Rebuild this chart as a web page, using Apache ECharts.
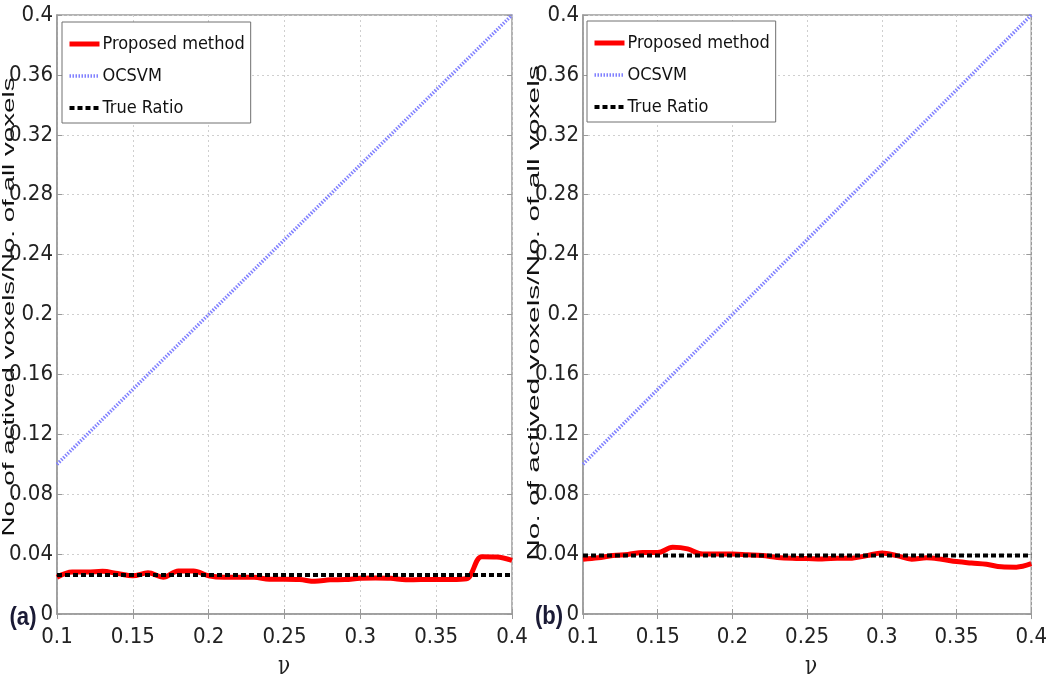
<!DOCTYPE html>
<html><head><meta charset="utf-8">
<script src="https://cdn.jsdelivr.net/npm/echarts@6/dist/echarts.min.js"></script>
<style>html,body{margin:0;padding:0;background:#fff}#c{width:1050px;height:678px}</style>
</head><body><div id="c"></div>
<script>
// ---- data ----
const seriesNames = ['Proposed method', 'OCSVM', 'True Ratio'];
const panelLabels = ['(a)', '(b)'];
const yTitle = 'No. of actived voxels/No. of all voxels';
const xTitle = 'ν';
const nu = [0.10,0.11,0.12,0.13,0.14,0.15,0.16,0.17,0.18,0.19,0.20,0.21,0.22,0.23,0.24,0.25,0.26,0.27,0.28,0.29,0.30,0.31,0.32,0.33,0.34,0.35,0.36,0.37,0.38,0.39,0.40];
const proposedA = [0.0245,0.0280,0.0280,0.0285,0.0270,0.0255,0.0275,0.0245,0.0287,0.0287,0.0255,0.0245,0.0245,0.0245,0.0232,0.0232,0.0230,0.0218,0.0228,0.0230,0.0238,0.0240,0.0238,0.0228,0.0230,0.0230,0.0230,0.0235,0.0382,0.0380,0.0358];
const proposedB = [0.0365,0.0375,0.0390,0.0398,0.0410,0.0410,0.0445,0.0435,0.0400,0.0400,0.0400,0.0395,0.0390,0.0378,0.0372,0.0370,0.0368,0.0372,0.0373,0.0390,0.0407,0.0390,0.0366,0.0375,0.0365,0.0350,0.0340,0.0332,0.0315,0.0313,0.0336];
const ocsvmNu = [0.10, 0.40];
const ocsvmA = [0.10, 0.40];
const ocsvmB = [0.10, 0.40];
const trueNu = [0.10, 0.40];
const trueA = [0.026, 0.026];
const trueB = [0.039, 0.039];
const xMin = 0.1, xMax = 0.4, xStep = 0.05;
const yMin = 0, yMax = 0.4, yStep = 0.04;

// ---- build ----
const zip = (xs, ys) => xs.map((x, i) => [x, ys[i]]);
const NARROW = "'Liberation Sans Narrow','DejaVu Sans Condensed','Liberation Sans',Arial,sans-serif";
const fmt = v => String(parseFloat(v.toFixed(2)));
const COLORS = ['#ff0000', '#8080ff', '#000000'];
const WIDTHS = [5, 3.5, 4];
const TYPES = ['solid', [1.5, 1.5], [5, 3]];

const grids = [
  {left: 57, right: 538, top: 15, bottom: 64},
  {left: 583, right: 11, top: 15, bottom: 64}
].map(g => Object.assign(g, {show: true, borderColor: '#9a9a9a', borderWidth: 1.5, backgroundColor: '#fff'}));

const xAxes = [], yAxes = [];
[0, 1].forEach(gi => {
  xAxes.push({
    type: 'value', gridIndex: gi, min: xMin, max: xMax, interval: xStep, position: 'bottom',
    axisLine: {lineStyle: {color: '#9a9a9a', width: 1.5}},
    axisTick: {inside: true, length: 5, lineStyle: {color: '#9a9a9a'}},
    axisLabel: {formatter: fmt, margin: 12, color: '#222', fontSize: 22, fontFamily: NARROW},
    splitLine: {show: true, lineStyle: {color: '#cfcfcf', type: [2, 3], width: 1}}
  });
  yAxes.push({
    type: 'value', gridIndex: gi, min: yMin, max: yMax, interval: yStep, position: 'left',
    axisLine: {show: true, lineStyle: {color: '#9a9a9a', width: 1.5}},
    axisTick: {show: true, inside: true, length: 5, lineStyle: {color: '#9a9a9a'}},
    axisLabel: {formatter: fmt, margin: 4, color: '#222', fontSize: 22, fontFamily: NARROW},
    splitLine: {show: true, lineStyle: {color: '#cfcfcf', type: [2, 3], width: 1}}
  });
});
[0, 1].forEach(gi => {
  xAxes.push({
    type: 'value', gridIndex: gi, min: xMin, max: xMax, interval: xStep, position: 'top',
    axisLine: {show: false}, axisLabel: {show: false}, splitLine: {show: false},
    axisTick: {inside: true, length: 5, lineStyle: {color: '#9a9a9a'}}
  });
  yAxes.push({
    type: 'value', gridIndex: gi, min: yMin, max: yMax, interval: yStep, position: 'right',
    axisLine: {show: false}, axisLabel: {show: false}, splitLine: {show: false},
    axisTick: {show: true, inside: true, length: 5, lineStyle: {color: '#9a9a9a'}}
  });
});

function panelSeries(gi, prop, ocs, tru) {
  const xs = [nu, ocsvmNu, trueNu], ys = [prop, ocs, tru];
  return seriesNames.map((name, k) => ({
    name: name, type: 'line', xAxisIndex: gi, yAxisIndex: gi, data: zip(xs[k], ys[k]),
    smooth: k === 0 ? 0.35 : false, symbol: 'none', showSymbol: false,
    lineStyle: {color: COLORS[k], width: WIDTHS[k], type: TYPES[k]},
    itemStyle: {color: COLORS[k]}, z: 3 + k
  }));
}

function legendFor(left, top) {
  return {
    left: left, top: top, orient: 'vertical', itemWidth: 30, itemHeight: 20, itemGap: 14,
    padding: [13, 6, 6, 5], backgroundColor: '#fff', borderColor: '#707070', borderWidth: 1,
    borderRadius: 0, selectedMode: false,
    itemStyle: {opacity: 0},
    textStyle: {fontSize: 18, fontFamily: NARROW, color: '#111', padding: [0, 0, 0, -2]},
    data: seriesNames.map((name, k) => ({
      name: name,
      itemStyle: {opacity: 0},
      lineStyle: {color: COLORS[k], width: WIDTHS[k], type: TYPES[k]}
    }))
  };
}

function textEl(text, x, y, opts) {
  return Object.assign({
    type: 'text', x: x, y: y,
    style: Object.assign({text: text, fill: '#111', align: 'center', verticalAlign: 'middle',
      textAlign: 'center', textVerticalAlign: 'middle'}, opts.style || {})
  }, opts.props || {});
}

const graphic = [
  textEl(yTitle, 9, 307, {props: {rotation: Math.PI / 2, scaleX: 1.63},
    style: {fontSize: 17, fontFamily: "'Liberation Sans',Arial,sans-serif"}}),
  textEl(yTitle, 534, 313, {props: {rotation: Math.PI / 2, scaleX: 1.76},
    style: {fontSize: 17, fontFamily: "'Liberation Sans',Arial,sans-serif"}}),
  textEl(xTitle, 284, 667, {props: {scaleY: 1.3}, style: {fontSize: 20, fontFamily: "'DejaVu Serif',serif", fill: '#222'}}),
  textEl(xTitle, 811, 667, {props: {scaleY: 1.3}, style: {fontSize: 20, fontFamily: "'DejaVu Serif',serif", fill: '#222'}}),
  textEl(panelLabels[0], 23, 618, {props: {scaleX: 0.85}, style: {fontSize: 26, fontWeight: 'bold', fontFamily: "'Liberation Sans',Arial,sans-serif", fill: '#1a1a35'}}),
  textEl(panelLabels[1], 549, 617, {props: {scaleX: 0.85}, style: {fontSize: 26, fontWeight: 'bold', fontFamily: "'Liberation Sans',Arial,sans-serif", fill: '#1a1a35'}})
];

const chart = echarts.init(document.getElementById('c'), null, {renderer: 'canvas'});
chart.setOption({
  backgroundColor: '#fff',
  animation: false,
  grid: grids,
  xAxis: xAxes,
  yAxis: yAxes,
  legend: [legendFor(62, 22), legendFor(587, 21)],
  series: panelSeries(0, proposedA, ocsvmA, trueA).concat(panelSeries(1, proposedB, ocsvmB, trueB)),
  graphic: graphic
});
</script></body></html>
